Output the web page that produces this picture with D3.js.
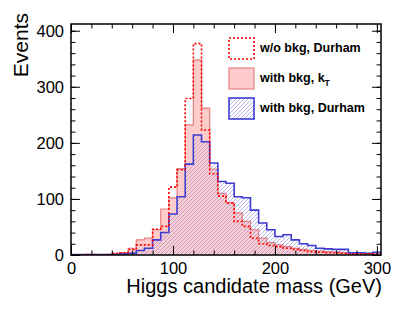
<!DOCTYPE html>
<html>
<head>
<meta charset="utf-8">
<script src="https://cdn.jsdelivr.net/npm/d3@7"></script>
<style>
  body { margin: 0; background: #fff; }
  text { font-family: "Liberation Sans", Arial, sans-serif; }
</style>
</head>
<body>
<svg id="chart" width="415" height="311"></svg>
<script>
// 8 GeV bins from 0 to 304
var binWidth = 8;
var durhamBkg = [1, 1, 1, 1, 1, 1, 2, 3, 8, 12, 27, 40, 73, 104, 162, 214, 202, 164, 131, 128,
  104, 102, 80, 57, 45, 33, 36, 27, 20, 17, 12, 11, 10, 10, 4, 4, 3, 5];
var ktBkg = [0, 0, 0, 0, 0, 2, 4, 12, 27, 30, 45, 82, 102, 154, 232, 348, 262, 153, 110, 93,
  75, 60, 45, 30, 22, 18, 15, 12, 10, 8, 7, 6, 5, 4, 3, 2, 2, 2];
var durhamNoBkg = [0, 0, 1, 0, 1, 3, 4, 10, 18, 18, 46, 51, 121, 152, 279, 377, 223, 145, 105, 93,
  60, 51, 30, 20, 17, 15, 12, 10, 8, 6, 5, 4, 4, 3, 2, 2, 2, 2];
var xTicks = [0, 100, 200, 300];
var yTicks = [0, 100, 200, 300, 400];
var legendLabels = ["w/o bkg, Durham", "with bkg, k", "with bkg, Durham"];

var svg = d3.select("#chart"),
  margin = { top: 24, right: 34, bottom: 56, left: 71 },
  width = +svg.attr("width") - margin.left - margin.right,
  height = +svg.attr("height") - margin.top - margin.bottom,
  g = svg.append("g").attr("transform", "translate(" + margin.left + "," + margin.top + ")");

var x = d3.scaleLinear().domain([0, 304]).range([0, width]);
var y = d3.scaleLinear().domain([0, 412]).range([height, 0]);

function steps(vals) {
  var pts = vals.map(function (v, i) { return [i * binWidth, v]; });
  pts.push([vals.length * binWidth, vals[vals.length - 1]]);
  return pts;
}

var line = d3.line().curve(d3.curveStepAfter)
  .x(function (d) { return x(d[0]); })
  .y(function (d) { return y(d[1]); });
var area = d3.area().curve(d3.curveStepAfter)
  .x(function (d) { return x(d[0]); })
  .y0(y(0))
  .y1(function (d) { return y(d[1]); });

var defs = svg.append("defs");
defs.append("pattern")
  .attr("id", "hatch")
  .attr("patternUnits", "userSpaceOnUse")
  .attr("width", 4).attr("height", 4)
  .append("path")
  .attr("d", "M-1,1 l2,-2 M0,4 l4,-4 M3,5 l2,-2")
  .attr("stroke", "#8585e0")
  .attr("stroke-width", 0.6);
defs.append("clipPath").attr("id", "clip")
  .append("rect").attr("width", width).attr("height", height);

var plot = g.append("g").attr("clip-path", "url(#clip)");

// with bkg, kT : pink fill
plot.append("path").datum(steps(ktBkg))
  .attr("d", area).attr("fill", "#ffcccc");
plot.append("path").datum(steps(ktBkg))
  .attr("d", line).attr("fill", "none").attr("stroke", "#e88080").attr("stroke-width", 1.2);

// with bkg, Durham : blue hatch
plot.append("path").datum(steps(durhamBkg))
  .attr("d", area).attr("fill", "url(#hatch)");
plot.append("path").datum(steps(durhamBkg))
  .attr("d", line).attr("fill", "none").attr("stroke", "#3c3cd2").attr("stroke-width", 1.6);

// w/o bkg, Durham : red dotted
plot.append("path").datum(steps(durhamNoBkg))
  .attr("d", line).attr("fill", "none").attr("stroke", "#ff0000")
  .attr("stroke-width", 1.6).attr("stroke-dasharray", "2,2");

// axes, ticks drawn inside the frame
function addAxis(axis, transform, labels) {
  var a = g.append("g").attr("transform", transform).call(axis);
  a.select(".domain").remove();
  a.selectAll("line").attr("stroke", "#000").attr("stroke-width", 1);
  if (!labels) a.selectAll("text").remove();
  else a.selectAll("text").attr("font-size", 16.5).attr("fill", "#000");
  return a;
}
var minorX = d3.range(0, 305, 20), minorY = d3.range(0, 412, 20);

addAxis(d3.axisBottom(x).tickValues(xTicks).tickFormat(d3.format("d")).tickSizeInner(-9).tickPadding(7),
  "translate(0," + height + ")", true);
addAxis(d3.axisBottom(x).tickValues(minorX).tickSizeInner(-4.5), "translate(0," + height + ")", false);
addAxis(d3.axisTop(x).tickValues(xTicks).tickSizeInner(-9), "translate(0,0)", false);
addAxis(d3.axisTop(x).tickValues(minorX).tickSizeInner(-4.5), "translate(0,0)", false);

addAxis(d3.axisLeft(y).tickValues(yTicks).tickFormat(d3.format("d")).tickSizeInner(-9).tickPadding(7),
  "translate(0,0)", true);
addAxis(d3.axisLeft(y).tickValues(minorY).tickSizeInner(-4.5), "translate(0,0)", false);
addAxis(d3.axisRight(y).tickValues(yTicks).tickSizeInner(-9), "translate(" + width + ",0)", false);
addAxis(d3.axisRight(y).tickValues(minorY).tickSizeInner(-4.5), "translate(" + width + ",0)", false);

g.append("rect").attr("width", width).attr("height", height)
  .attr("fill", "none").attr("stroke", "#000").attr("stroke-width", 1.5);

// axis titles
svg.append("text")
  .attr("x", margin.left + width + 1).attr("y", 293)
  .attr("text-anchor", "end").attr("font-size", 20)
  .text("Higgs candidate mass (GeV)");
svg.append("text")
  .attr("transform", "translate(28,13) rotate(-90)")
  .attr("text-anchor", "end").attr("font-size", 21)
  .text("Events");

// legend
var leg = svg.append("g").attr("transform", "translate(229,38)");
var rows = leg.selectAll("g").data(legendLabels).enter().append("g")
  .attr("transform", function (d, i) { return "translate(0," + (i * 30) + ")"; });
rows.append("rect").attr("width", 25).attr("height", 21)
  .attr("fill", function (d, i) { return i === 0 ? "#fff" : i === 1 ? "#ffcccc" : "url(#hatch)"; })
  .attr("stroke", function (d, i) { return i === 0 ? "#ff0000" : i === 1 ? "#e88080" : "#3c3cd2"; })
  .attr("stroke-width", function (d, i) { return i === 1 ? 1.2 : 1.6; })
  .attr("stroke-dasharray", function (d, i) { return i === 0 ? "2,2" : null; });
var lt = rows.append("text").attr("x", 31).attr("y", 14)
  .attr("font-size", 12.5).attr("font-weight", "bold").attr("fill", "#000")
  .text(function (d) { return d; });
lt.filter(function (d, i) { return i === 1; })
  .append("tspan").attr("font-size", 8.5).attr("dy", 4).text("T");
</script>
</body>
</html>
